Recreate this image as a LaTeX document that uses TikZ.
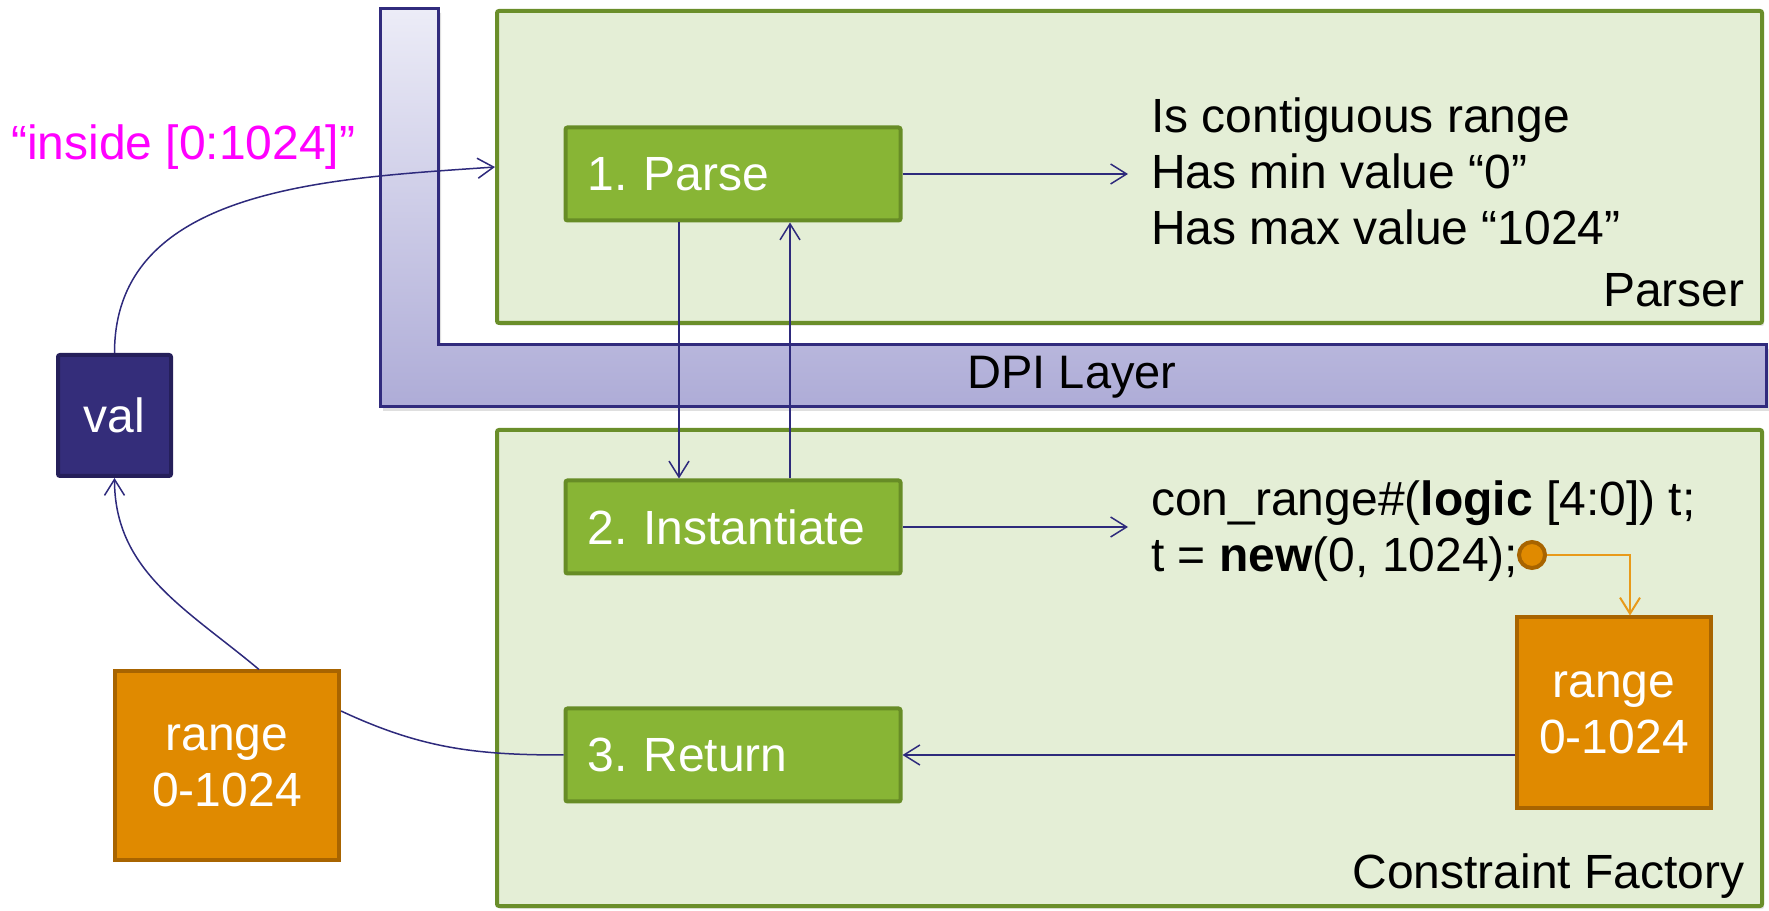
\documentclass[tikz,border=0pt]{standalone}
\usepackage{fontspec}
\setmainfont{Liberation Sans}
\usetikzlibrary{arrows.meta,shadows}

\definecolor{dpiline}{HTML}{312B7D}
\definecolor{dpitop}{HTML}{ECECF7}
\definecolor{dpibot}{HTML}{AEACD7}
\definecolor{boxfill}{HTML}{E4EED6}
\definecolor{boxline}{HTML}{6A8E2A}
\definecolor{stepfill}{HTML}{88B535}
\definecolor{stepline}{HTML}{678C26}
\definecolor{valfill}{HTML}{342D7A}
\definecolor{valline}{HTML}{251F5A}
\definecolor{rangefill}{HTML}{E08A00}
\definecolor{rangeline}{HTML}{A86400}
\definecolor{wire}{HTML}{2E2A7C}
\definecolor{orwire}{HTML}{E89A1A}

\tikzset{
    txt/.style={font=\fontsize{48}{56}\selectfont\frenchspacing},
    layer/.style={fill=boxfill, draw=boxline, line width=4pt, rounded corners=2pt,
        drop shadow={opacity=0.2, shadow xshift=2pt, shadow yshift=-3pt}},
    stepbox/.style={txt, text=white, fill=stepfill, draw=stepline, line width=4pt,
        rounded corners=2pt, text width=291pt, inner xsep=22pt, minimum height=93pt, align=left},
    valbox/.style={txt, text=white, fill=valfill, draw=valline, line width=4pt,
        rounded corners=2pt, minimum width=113pt, minimum height=121pt},
    rangebox/.style={txt, text=white, fill=rangefill, draw=rangeline,
        line width=4pt, align=center},
    note/.style={txt, align=left, inner xsep=23pt, inner ysep=0pt},
    flow/.style={draw=wire, line width=1.5pt, -{Straight Barb[length=16pt,width=20pt]}},
}

\begin{document}
\begin{tikzpicture}[x=1pt, y=1pt]
    \useasboundingbox (0,0) rectangle (1769,910);

    % Parser and factory panels
    \node[layer, minimum width=1265pt, minimum height=312pt] (parser) at (1129.5,743) {};
    \node[layer, minimum width=1265pt, minimum height=476pt] (factory) at (1129.5,242) {};
    \node[txt, anchor=base east] (parserlbl) at (1748,603) {Parser};
    \node[txt, anchor=base east] (factorylbl) at (1748,22) {Constraint Factory};

    % DPI layer, an L shape
    \draw[draw=dpiline, line width=3pt, top color=dpitop, bottom color=dpibot,
        drop shadow={opacity=0.25, shadow xshift=3pt, shadow yshift=-4pt}]
        (380,901) -- (438,901) -- (438,565) -- (1766,565) -- (1766,503) -- (380,503) -- cycle;
    \node[txt, font=\fontsize{47}{56}\selectfont] (dpi) at (1072,533) {DPI Layer};

    % Steps
    \def\steps{parse/736/1. Parse, inst/383/2. Instantiate, ret/155/3. Return}
    \foreach \n/\y/\t in \steps {
        \node[stepbox] (\n) at (733,\y) {\t};
    }

    % Values on the SV side
    \node[valbox] (val) at (114.5,494.5) {val};
    \node[rangebox, minimum width=224pt, minimum height=189pt] (rangeL) at (227,144) {range\\0-1024};
    \node[rangebox, minimum width=194pt, minimum height=191pt] (rangeR) at (1614,197) {range\\0-1024};
    \node[txt, text={rgb,255:red,255;green,0;blue,255}, anchor=west, inner sep=0pt] (query) at (11,763)
        {“inside [0:1024]”};

    % Notes
    \node[note, anchor=west] (pnote) at (1128,739)
        {Is contiguous range\\Has min value “0”\\Has max value “1024”};
    \node[note, anchor=west] (inote) at (1128,379)
        {con\_range\#(\textbf{logic} [4:0]) t;\\t = \textbf{new}(0, 1024);};
    \node[circle, fill=rangefill, draw=rangeline, line width=4pt, minimum size=26pt, inner sep=0pt]
        (newdot) at (1532,355) {};

    % Draw links
    \draw[flow] (val.north) to[out=90,in=184] (parser.west);
    \draw[flow] (parse.east) -- (parse.east -| pnote.west);
    \draw[flow] ([xshift=-54pt]parse.south) -- ([xshift=-54pt]inst.north);
    \draw[flow] ([xshift=57pt]inst.north) -- ([xshift=57pt]parse.south);
    \draw[flow] (inst.east) -- (inst.east -| inote.west);
    \draw[draw=orwire, line width=2pt, -{Straight Barb[length=16pt,width=20pt]}]
        (newdot.east) -| ([xshift=16pt]rangeR.north);
    \draw[flow] (rangeR.west |- ret.east) -- (ret.east);
    \draw[draw=wire, line width=1.5pt] (ret.west) to[out=180,in=-25] ([yshift=55pt]rangeL.east);
    \draw[flow] ([xshift=32pt]rangeL.north) to[out=140,in=-90] (val.south);
\end{tikzpicture}
\end{document}
